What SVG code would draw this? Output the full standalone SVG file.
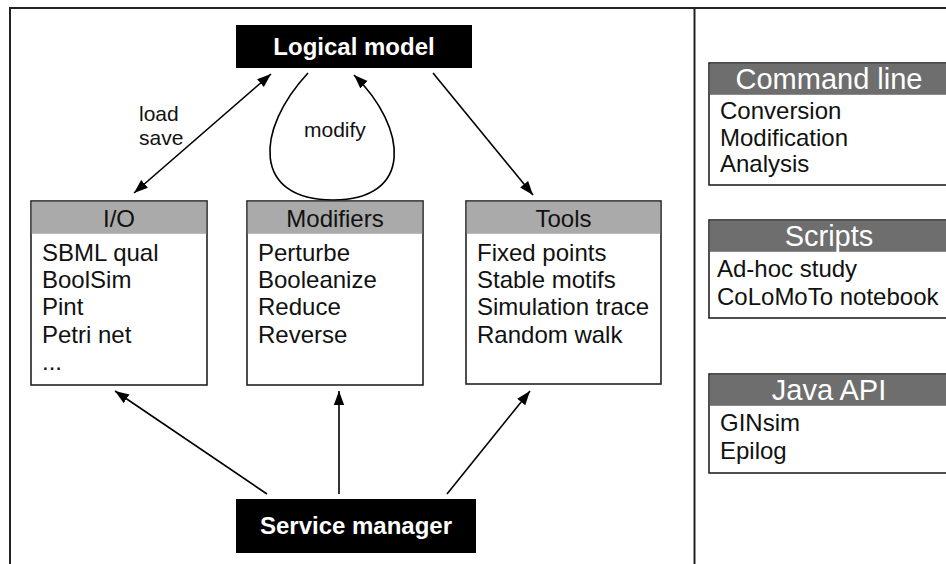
<svg xmlns="http://www.w3.org/2000/svg" width="946" height="564" viewBox="0 0 946 564">
<defs>
<marker id="ah" viewBox="0 0 10 10" refX="10" refY="5" markerWidth="14" markerHeight="14" markerUnits="userSpaceOnUse" orient="auto-start-reverse">
<path d="M0,1.3 L10,5 L0,8.7 z" fill="#000"/>
</marker>
<style>
text{font-family:"Liberation Sans",Arial,sans-serif;font-size:24px;fill:#111}
.b{font-weight:bold;fill:#fff;text-anchor:middle}
.hd{text-anchor:middle}
.hw{text-anchor:middle;fill:#fff;font-size:29px}
.lbl{font-size:21px}
.box{fill:#fff;stroke:#222;stroke-width:1.6}
.hl{fill:#aaaaaa}
.hdk{fill:#6e6e6e}
.blk{fill:#000}
.cn{fill:none;stroke:#000;stroke-width:1.6}
</style>
</defs>
<rect width="946" height="564" fill="#fff"/>
<g id="frame" fill="none" stroke="#222" stroke-width="2">
<path d="M10,564 V8 H946"/>
<path d="M694.5,8 V564"/>
</g>
<g id="connectors">
<line class="cn" x1="134" y1="193" x2="271" y2="74" marker-start="url(#ah)" marker-end="url(#ah)"/>
<path class="cn" d="M308,73 C255,130 252,200 333,200 C414,200 408,128 354,75" marker-end="url(#ah)"/>
<line class="cn" x1="433" y1="73" x2="533" y2="195" marker-end="url(#ah)"/>
<line class="cn" x1="267" y1="494" x2="115" y2="391" marker-end="url(#ah)"/>
<line class="cn" x1="339" y1="494" x2="339" y2="391" marker-end="url(#ah)"/>
<line class="cn" x1="447" y1="494" x2="530" y2="391" marker-end="url(#ah)"/>
<text class="lbl" x="139" y="121">load</text>
<text class="lbl" x="139" y="145">save</text>
<text class="lbl" x="304" y="137">modify</text>
</g>
<g id="logical-model">
<rect class="blk" x="236" y="25" width="236" height="43"/>
<text class="b" x="354" y="55">Logical model</text>
</g>
<g id="service-manager">
<rect class="blk" x="236" y="499" width="240" height="54"/>
<text class="b" x="356" y="534">Service manager</text>
</g>
<g id="io">
<rect class="box" x="31" y="201" width="176" height="184"/>
<rect class="hl" x="31.8" y="201.8" width="174.4" height="32"/>
<text class="hd" x="119" y="227">I/O</text>
<text x="42" y="261">SBML qual</text>
<text x="42" y="288">BoolSim</text>
<text x="42" y="315">Pint</text>
<text x="42" y="343">Petri net</text>
<text x="42" y="370">...</text>
</g>
<g id="modifiers">
<rect class="box" x="247" y="201" width="176" height="184"/>
<rect class="hl" x="247.8" y="201.8" width="174.4" height="32"/>
<text class="hd" x="335" y="227">Modifiers</text>
<text x="258" y="261">Perturbe</text>
<text x="258" y="288">Booleanize</text>
<text x="258" y="315">Reduce</text>
<text x="258" y="343">Reverse</text>
</g>
<g id="tools">
<rect class="box" x="466" y="201" width="195" height="183"/>
<rect class="hl" x="466.8" y="201.8" width="193.4" height="32"/>
<text class="hd" x="563.5" y="227">Tools</text>
<text x="477" y="261">Fixed points</text>
<text x="477" y="288">Stable motifs</text>
<text x="477" y="315">Simulation trace</text>
<text x="477" y="343">Random walk</text>
</g>
<g id="command-line">
<rect class="box" x="709" y="63" width="250" height="122"/>
<rect class="hdk" x="709.8" y="63.8" width="240" height="31"/>
<text class="hw" x="829" y="89">Command line</text>
<text x="720" y="119">Conversion</text>
<text x="720" y="146">Modification</text>
<text x="720" y="172">Analysis</text>
</g>
<g id="scripts">
<rect class="box" x="709" y="220" width="250" height="98"/>
<rect class="hdk" x="709.8" y="220.8" width="240" height="31"/>
<text class="hw" x="829" y="246">Scripts</text>
<text x="717" y="277">Ad-hoc study</text>
<text x="717" y="305">CoLoMoTo notebook</text>
</g>
<g id="java-api">
<rect class="box" x="709" y="374" width="250" height="99"/>
<rect class="hdk" x="709.8" y="374.8" width="240" height="31"/>
<text class="hw" x="829" y="400">Java API</text>
<text x="720" y="431">GINsim</text>
<text x="720" y="459">Epilog</text>
</g>
</svg>
